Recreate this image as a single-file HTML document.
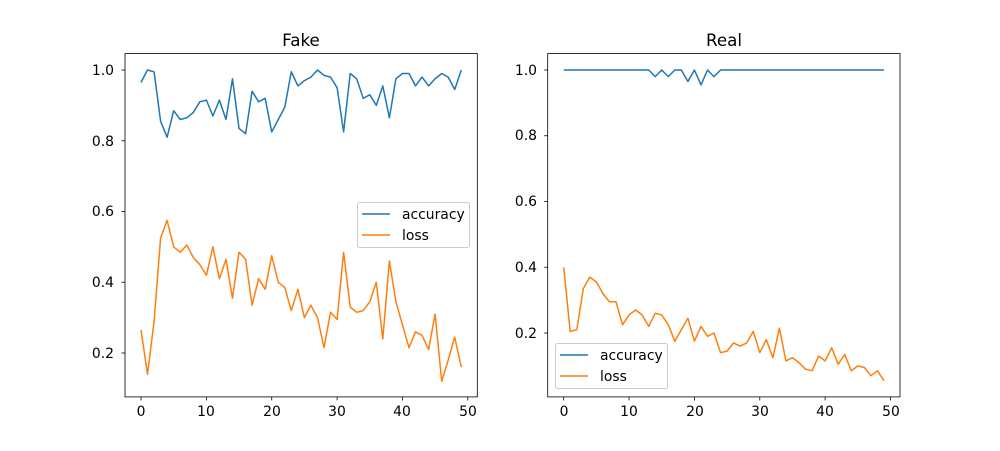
<!DOCTYPE html>
<html><head><meta charset="utf-8"><style>
body{margin:0;background:#fff;}
svg text{font-family:"DejaVu Sans","Liberation Sans",sans-serif;}
</style></head><body>
<svg id="s" width="1000" height="446" xmlns="http://www.w3.org/2000/svg">
<rect width="1000" height="446" fill="#fff"/>
<g id="g1"></g><g id="g2"></g>
<text x="301" y="46" font-size="16.7" text-anchor="middle">Fake</text>
<text x="724" y="46" font-size="16.7" text-anchor="middle">Real</text>
<g font-size="13.9" text-anchor="end">
<text x="114" y="75">1.0</text><text x="114" y="146">0.8</text><text x="114" y="216">0.6</text><text x="114" y="287">0.4</text><text x="114" y="358">0.2</text>
<text x="537" y="75">1.0</text><text x="537" y="140">0.8</text><text x="537" y="206">0.6</text><text x="537" y="272">0.4</text><text x="537" y="338">0.2</text>
</g>
<g font-size="13.9" text-anchor="middle">
<text x="141" y="416">0</text><text x="206" y="416">10</text><text x="272" y="416">20</text><text x="337" y="416">30</text><text x="402" y="416">40</text><text x="468" y="416">50</text>
<text x="564" y="416">0</text><text x="629" y="416">10</text><text x="695" y="416">20</text><text x="760" y="416">30</text><text x="825" y="416">40</text><text x="891" y="416">50</text>
</g>
<g font-size="13.9">
<rect x="357.5" y="202.5" width="112" height="45" fill="#fff" fill-opacity="0.8" stroke="#ccc" rx="2"/>
<line x1="362" y1="214" x2="390" y2="214" stroke="#1f77b4" stroke-width="1.5"/>
<text x="402" y="219">accuracy</text>
<line x1="362" y1="235" x2="390" y2="235" stroke="#ff7f0e" stroke-width="1.5"/>
<text x="402" y="240">loss</text>
<rect x="555.5" y="343.5" width="112" height="45" fill="#fff" fill-opacity="0.8" stroke="#ccc" rx="2"/>
<line x1="560" y1="355" x2="588" y2="355" stroke="#1f77b4" stroke-width="1.5"/>
<text x="600" y="360">accuracy</text>
<line x1="560" y1="376" x2="588" y2="376" stroke="#ff7f0e" stroke-width="1.5"/>
<text x="600" y="381">loss</text>
</g>
</svg>
<script>
var fa=[0.965,1.0,0.995,0.855,0.81,0.885,0.86,0.865,0.88,0.91,0.915,0.87,0.915,0.86,0.975,0.835,0.82,0.94,0.91,0.92,0.825,0.86,0.895,0.995,0.955,0.97,0.98,1.0,0.985,0.98,0.95,0.825,0.99,0.975,0.92,0.93,0.90,0.955,0.865,0.975,0.99,0.99,0.955,0.98,0.955,0.975,0.99,0.98,0.945,1.0];
var fl=[0.265,0.14,0.29,0.525,0.575,0.5,0.485,0.505,0.47,0.45,0.42,0.50,0.41,0.465,0.355,0.485,0.465,0.335,0.41,0.38,0.475,0.40,0.385,0.32,0.38,0.30,0.335,0.30,0.215,0.315,0.295,0.485,0.33,0.315,0.32,0.345,0.40,0.24,0.46,0.345,0.28,0.215,0.26,0.25,0.21,0.31,0.12,0.18,0.245,0.16];
var ra=[];for(var i=0;i<50;i++)ra.push(1);
ra[14]=0.98;ra[16]=0.98;ra[19]=0.965;ra[21]=0.955;ra[23]=0.98;
var rl=[0.40,0.205,0.21,0.335,0.37,0.355,0.32,0.295,0.295,0.225,0.255,0.27,0.255,0.22,0.26,0.255,0.225,0.175,0.21,0.245,0.175,0.22,0.19,0.2,0.14,0.145,0.17,0.16,0.17,0.205,0.14,0.18,0.125,0.215,0.115,0.125,0.11,0.09,0.085,0.13,0.115,0.155,0.105,0.135,0.085,0.1,0.095,0.07,0.085,0.055];
var NS="http://www.w3.org/2000/svg";
function el(g,n,a){var e=document.createElementNS(NS,n);for(var k in a)e.setAttribute(k,a[k]);g.appendChild(e);return e;}
function panel(gid,x0,ppv,y02,series,yt){
 var g=document.getElementById(gid);
 series.forEach(function(s){
  var p=s[0].map(function(v,i){return (x0+16+i*6.536).toFixed(1)+","+(y02-(v-0.2)*ppv).toFixed(1);}).join(" ");
  el(g,"polyline",{points:p,fill:"none",stroke:s[1],"stroke-width":1.5,"stroke-linejoin":"round"});
 });
 el(g,"rect",{x:x0,y:53.5,width:352.3,height:343.4,fill:"none",stroke:"#000","stroke-width":0.8});
 for(var i=0;i<=5;i++){var x=x0+16+i*10*6.536;el(g,"line",{x1:x,y1:396.9,x2:x,y2:400.4,stroke:"#000","stroke-width":0.8});}
 yt.forEach(function(v){var y=y02-(v-0.2)*ppv;el(g,"line",{x1:x0-3.5,y1:y,x2:x0,y2:y,stroke:"#000","stroke-width":0.8});});
}
panel("g1",125,353.75,353,[[fa,"#1f77b4"],[fl,"#ff7f0e"]],[0.2,0.4,0.6,0.8,1.0]);
panel("g2",547.7,328.75,333,[[ra,"#1f77b4"],[rl,"#ff7f0e"]],[0.2,0.4,0.6,0.8,1.0]);
</script>
</body></html>
